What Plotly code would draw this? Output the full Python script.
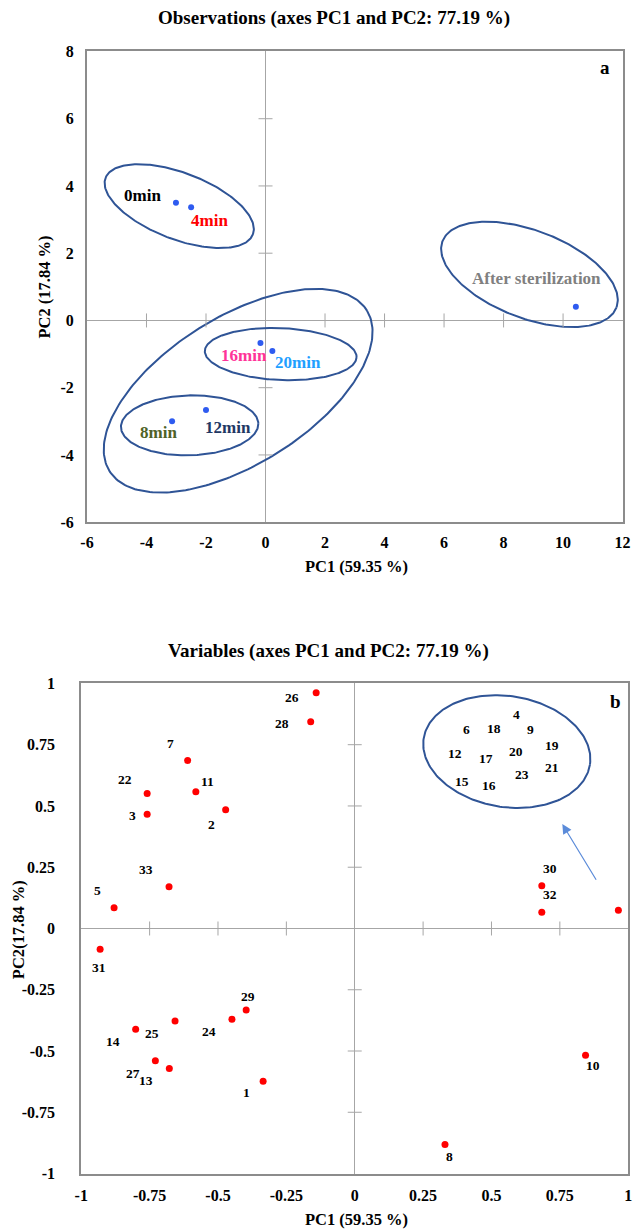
import numpy as np
import plotly.graph_objects as go

W, H = 638, 1229
FONT = "Liberation Serif"
# The page keeps an 8px body margin; the full page (646x1245) is scaled into the
# 638x1229 photo, so reference pixel positions are mapped back through that transform.
PAGE_MARGIN = 8
SX = W / (W + PAGE_MARGIN)
SY = H / (H + 2 * PAGE_MARGIN)
X_SHIFT = 3.0  # measured horizontal correction of the photo

# ---------------- Panel a: observations ----------------
obs_names = ["0min", "4min", "8min", "12min", "16min", "20min", "After sterilization"]
obs_x = [-3.01, -2.50, -3.14, -2.00, -0.17, 0.23, 10.43]
obs_y = [3.50, 3.37, -3.00, -2.66, -0.67, -0.91, 0.41]
obs_label_x = [-4.14, -1.87, -3.61, -1.27, -0.71, 1.09, 9.11]
obs_label_y = [3.73, 2.98, -3.34, -3.19, -1.04, -1.25, 1.26]
obs_label_colors = ["#000000", "#FF0000", "#4F6228", "#1F3864", "#FF3399", "#1FA0FF", "#808080"]

# ellipses: center x, center y (data), semi-axes (reference px), tilt (deg, screen)
obs_ellipses = [
    (-2.90, 3.40, 79.7, 33.3, 20.7),
    (8.87, 1.37, 94.0, 43.9, 20.6),
    (-0.92, -2.09, 153.0, 73.9, -31.6),
    (0.51, -1.00, 76.8, 26.0, 2.4),
    (-2.55, -3.12, 69.5, 30.0, -1.5),
]
a_xticks = [-6, -4, -2, 0, 2, 4, 6, 8, 10, 12]
a_yticks = [-6, -4, -2, 0, 2, 4, 6, 8]

# ---------------- Panel b: variables ----------------
var_ids = ["26", "28", "7", "11", "22", "3", "2", "33", "5", "31", "29", "24", "25", "14",
           "27", "13", "1", "30", "32", "10", "8", ""]
var_x = [-0.141, -0.161, -0.611, -0.581, -0.759, -0.759, -0.472, -0.679, -0.880, -0.931,
         -0.397, -0.449, -0.657, -0.801, -0.729, -0.678, -0.335, 0.684, 0.684, 0.844, 0.330, 0.964]
var_y = [0.962, 0.844, 0.685, 0.558, 0.551, 0.466, 0.485, 0.170, 0.085, -0.085,
         -0.333, -0.370, -0.378, -0.411, -0.540, -0.571, -0.623, 0.174, 0.066, -0.517, -0.881, 0.074]
var_label_x = [-0.231, -0.267, -0.672, -0.540, -0.841, -0.811, -0.522, -0.762, -0.941, -0.934,
               -0.392, -0.533, -0.741, -0.883, -0.811, -0.762, -0.397, 0.715, 0.715, 0.873, 0.348, None]
var_label_y = [0.943, 0.838, 0.755, 0.599, 0.610, 0.460, 0.423, 0.242, 0.155, -0.159,
               -0.279, -0.421, -0.428, -0.462, -0.590, -0.622, -0.669, 0.245, 0.138, -0.561, -0.930, None]

cluster_ids = ["4", "6", "18", "9", "12", "17", "20", "19", "21", "23", "15", "16"]
cluster_x = [0.591, 0.407, 0.509, 0.642, 0.368, 0.479, 0.588, 0.721, 0.721, 0.610, 0.392, 0.492]
cluster_y = [0.875, 0.810, 0.818, 0.811, 0.716, 0.694, 0.723, 0.746, 0.655, 0.629, 0.599, 0.582]
var_ellipse = (0.556, 0.722, 85.1, 55.6, 8.9)
arrow_from = (0.886, 0.193)
arrow_to = (0.759, 0.426)

b_ticks = [-1, -0.75, -0.5, -0.25, 0, 0.25, 0.5, 0.75, 1]
b_ticktext = ["-1", "-0.75", "-0.5", "-0.25", "0", "0.25", "0.5", "0.75", "1"]


# ---------------- layout geometry (reference pixels -> figure fractions) ----------------
def clamp(v):
    return min(1.0, max(0.0, v))


def fx(p):
    return clamp(((p + X_SHIFT) / SX - PAGE_MARGIN) / W)


def fy(p):
    return clamp(1 - (p / SY - PAGE_MARGIN) / H)


a_left, a_right, a_top, a_bottom = 85.8, 627.5, 51.4, 522.6
b_left, b_right, b_top, b_bottom = 80.0, 633.2, 684.0, 1174.6
a_xdom = [fx(a_left), fx(a_right)]
a_ydom = [fy(a_bottom), fy(a_top)]
b_xdom = [fx(b_left), fx(b_right)]
b_ydom = [fy(b_bottom), fy(b_top)]

# figure pixels per data unit
a_sx = (a_xdom[1] - a_xdom[0]) * W / (a_xticks[-1] - a_xticks[0])
a_sy = (a_ydom[1] - a_ydom[0]) * H / (a_yticks[-1] - a_yticks[0])
b_sx = (b_xdom[1] - b_xdom[0]) * W / 2.0
b_sy = (b_ydom[1] - b_ydom[0]) * H / 2.0

ELL_COLOR = "#2F5496"
AXIS_GRAY = "#8C8C8C"
ZERO_GRAY = "#A6A6A6"


def ellipse_xy(cx, cy, a, b, ang, sx, sy, n=240):
    t = np.linspace(0, 2 * np.pi, n)
    th = np.deg2rad(ang)
    dxp = (a * np.cos(th) * np.cos(t) - b * np.sin(th) * np.sin(t)) / SX
    dyp = (a * np.sin(th) * np.cos(t) + b * np.cos(th) * np.sin(t)) / SY
    return cx + dxp / sx, cy - dyp / sy


fig = go.Figure()

# ellipses panel a
for (cx, cy, a, b, ang) in obs_ellipses:
    ex, ey = ellipse_xy(cx, cy, a, b, ang, a_sx, a_sy)
    fig.add_trace(go.Scatter(x=ex, y=ey, mode="lines", line=dict(color=ELL_COLOR, width=2),
                             hoverinfo="skip", showlegend=False, xaxis="x", yaxis="y"))

# crossing tick marks on zero lines, panel a
ax_inner = [v for v in a_xticks[1:-1] if v != 0]
ay_inner = [v for v in a_yticks[1:-1] if v != 0]
fig.add_trace(go.Scatter(x=ax_inner, y=[0] * len(ax_inner), mode="markers",
                         marker=dict(symbol="line-ns", size=10, line=dict(color=ZERO_GRAY, width=1)),
                         hoverinfo="skip", showlegend=False, xaxis="x", yaxis="y"))
fig.add_trace(go.Scatter(x=[0] * len(ay_inner), y=ay_inner, mode="markers",
                         marker=dict(symbol="line-ew", size=10, line=dict(color=ZERO_GRAY, width=1)),
                         hoverinfo="skip", showlegend=False, xaxis="x", yaxis="y"))

# points panel a
fig.add_trace(go.Scatter(x=obs_x, y=obs_y, mode="markers",
                         marker=dict(color="#2E5BF0", size=6),
                         hoverinfo="text", text=obs_names, showlegend=False, xaxis="x", yaxis="y"))

for name, lx, ly, col in zip(obs_names, obs_label_x, obs_label_y, obs_label_colors):
    fig.add_annotation(x=lx, y=ly, xref="x", yref="y", text=name, showarrow=False,
                       font=dict(family=FONT, size=17, color=col, weight="bold"),
                       xanchor="center", yanchor="middle")

# ---------------- panel b ----------------
ex, ey = ellipse_xy(*var_ellipse, b_sx, b_sy)
fig.add_trace(go.Scatter(x=ex, y=ey, mode="lines", line=dict(color=ELL_COLOR, width=2),
                         hoverinfo="skip", showlegend=False, xaxis="x2", yaxis="y2"))

bx_inner = [v for v in b_ticks[1:-1] if v != 0]
fig.add_trace(go.Scatter(x=bx_inner, y=[0] * len(bx_inner), mode="markers",
                         marker=dict(symbol="line-ns", size=10, line=dict(color=ZERO_GRAY, width=1)),
                         hoverinfo="skip", showlegend=False, xaxis="x2", yaxis="y2"))
fig.add_trace(go.Scatter(x=[0] * len(bx_inner), y=bx_inner, mode="markers",
                         marker=dict(symbol="line-ew", size=10, line=dict(color=ZERO_GRAY, width=1)),
                         hoverinfo="skip", showlegend=False, xaxis="x2", yaxis="y2"))

fig.add_trace(go.Scatter(x=var_x, y=var_y, mode="markers",
                         marker=dict(color="#FF0000", size=7),
                         hoverinfo="text", text=var_ids, showlegend=False, xaxis="x2", yaxis="y2"))

LBL_FONT = dict(family=FONT, size=13.5, color="#000000", weight="bold")
for vid, lx, ly in zip(var_ids, var_label_x, var_label_y):
    if lx is None:
        continue
    fig.add_annotation(x=lx, y=ly, xref="x2", yref="y2", text=vid, showarrow=False,
                       font=LBL_FONT, xanchor="center", yanchor="middle")
for vid, lx, ly in zip(cluster_ids, cluster_x, cluster_y):
    fig.add_annotation(x=lx, y=ly, xref="x2", yref="y2", text=vid, showarrow=False,
                       font=LBL_FONT, xanchor="center", yanchor="middle")

fig.add_annotation(x=arrow_to[0], y=arrow_to[1], ax=arrow_from[0], ay=arrow_from[1],
                   xref="x2", yref="y2", axref="x2", ayref="y2", text="", showarrow=True,
                   arrowhead=2, arrowsize=1.6, arrowwidth=1.2, arrowcolor="#5B8BD9")

# panel letters and titles
LETTER_FONT = dict(family=FONT, size=19, color="#000000", weight="bold")
fig.add_annotation(x=fx(610), y=fy(67), xref="paper", yref="paper", text="a", showarrow=False,
                   font=LETTER_FONT, xanchor="center", yanchor="middle")
fig.add_annotation(x=fx(620), y=fy(701.7), xref="paper", yref="paper", text="b", showarrow=False,
                   font=LETTER_FONT, xanchor="center", yanchor="middle")

TITLE_FONT = dict(family=FONT, size=19, color="#000000", weight="bold")
AX_FONT = dict(family=FONT, size=16.5, color="#000000", weight="bold")
fig.add_annotation(x=fx(336), y=fy(18), xref="paper", yref="paper",
                   text="Observations (axes PC1 and PC2: 77.19 %)", showarrow=False, font=TITLE_FONT,
                   xanchor="center", yanchor="middle")
fig.add_annotation(x=fx(330), y=fy(652), xref="paper", yref="paper",
                   text="Variables (axes PC1 and PC2: 77.19 %)", showarrow=False, font=TITLE_FONT,
                   xanchor="center", yanchor="middle")
fig.add_annotation(x=fx(358), y=fy(567), xref="paper", yref="paper",
                   text="PC1 (59.35 %)", showarrow=False, font=AX_FONT, xanchor="center", yanchor="middle")
fig.add_annotation(x=fx(43), y=fy(287), xref="paper", yref="paper",
                   text="PC2 (17.84 %)", showarrow=False, font=AX_FONT, textangle=-90,
                   xanchor="center", yanchor="middle")
fig.add_annotation(x=fx(358), y=fy(1221), xref="paper", yref="paper",
                   text="PC1 (59.35 %)", showarrow=False, font=AX_FONT, xanchor="center", yanchor="middle")
fig.add_annotation(x=fx(16), y=fy(930), xref="paper", yref="paper",
                   text="PC2(17.84 %)", showarrow=False, font=AX_FONT, textangle=-90,
                   xanchor="center", yanchor="middle")

TICK_FONT = dict(family=FONT, size=16, color="#000000", weight="bold")
common = dict(showgrid=False, zeroline=True, zerolinecolor=ZERO_GRAY, zerolinewidth=1,
              showline=True, mirror=True, linecolor=AXIS_GRAY, linewidth=2, ticks="",
              tickfont=TICK_FONT, fixedrange=True)

fig.update_layout(
    width=W, height=H, margin=dict(l=0, r=0, t=0, b=0),
    paper_bgcolor="white", plot_bgcolor="white", showlegend=False,
    xaxis=dict(domain=a_xdom, range=[a_xticks[0], a_xticks[-1]], anchor="y",
               tickvals=a_xticks, ticktext=[str(v) for v in a_xticks], ticklabelstandoff=5,
               ticklabeloverflow="allow", **common),
    yaxis=dict(domain=a_ydom, range=[a_yticks[0], a_yticks[-1]], anchor="x",
               tickvals=a_yticks, ticktext=[str(v) for v in a_yticks], ticklabelstandoff=8, **common),
    xaxis2=dict(domain=b_xdom, range=[-1, 1], anchor="y2",
                tickvals=b_ticks, ticktext=b_ticktext, ticklabelstandoff=6,
                ticklabeloverflow="allow", **common),
    yaxis2=dict(domain=b_ydom, range=[-1, 1], anchor="x2",
                tickvals=b_ticks, ticktext=b_ticktext, ticklabelstandoff=21, **common),
)

fig.write_html("out.html")
